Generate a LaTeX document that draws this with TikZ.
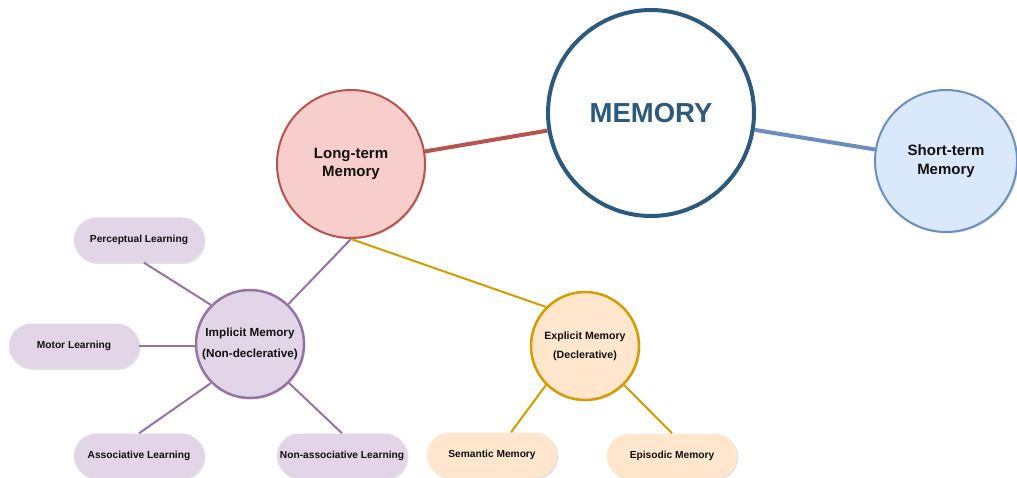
\documentclass[tikz,border=0pt]{standalone}
\usepackage{fontspec}
\setmainfont{Liberation Sans}
\usetikzlibrary{shadows}
\definecolor{memblue}{HTML}{2B5A7E}
\definecolor{stfill}{HTML}{DAE8FC}
\definecolor{ststroke}{HTML}{6C8EBF}
\definecolor{ltfill}{HTML}{F8CECC}
\definecolor{ltstroke}{HTML}{B85450}
\definecolor{imfill}{HTML}{E1D5E7}
\definecolor{imstroke}{HTML}{9673A6}
\definecolor{exfill}{HTML}{FFE6CC}
\definecolor{exstroke}{HTML}{D79B00}
\definecolor{txt}{HTML}{111111}
\tikzset{
  shad/.style={drop shadow={opacity=0.22, shadow xshift=1.5pt, shadow yshift=-1.5pt}},
  bigcircle/.style={circle, inner sep=0pt, align=center, text=txt, font=\bfseries\fontsize{15}{18.5}\selectfont, shad},
  midcircle/.style={circle, inner sep=0pt, align=center, text=txt, line width=2.5pt, shad},
  pill/.style={rectangle, rounded corners=22.5pt, minimum width=130pt, minimum height=45pt, inner sep=0pt, text=txt, font=\bfseries\fontsize{10.2}{12}\selectfont, shad},
  link/.style={line width=2pt}
}
\begin{document}
\begin{tikzpicture}[x=1pt,y=-1pt]
\useasboundingbox (0,0) rectangle (1017,478);
% main nodes
\node[bigcircle, draw=memblue, fill=white, line width=4pt, minimum size=206pt, text=memblue, font=\bfseries\fontsize{27.5}{30}\selectfont] (mem) at (651,113) {MEMORY};
\node[bigcircle, draw=ststroke, fill=stfill, line width=2pt, minimum size=142pt] (st) at (946,161) {Short-term\\Memory};
\node[bigcircle, draw=ltstroke, fill=ltfill, line width=2pt, minimum size=148pt] (lt) at (351,164) {Long-term\\Memory};
\node[midcircle, draw=imstroke, fill=imfill, minimum size=108pt, font=\bfseries\fontsize{11.7}{20.5}\selectfont] (im) at (250,344) {Implicit Memory\\(Non-declerative)};
\node[midcircle, draw=exstroke, fill=exfill, minimum size=108pt, font=\bfseries\fontsize{10.6}{19}\selectfont] (ex) at (585,346) {Explicit Memory\\(Declerative)};
% leaves
\node[pill, fill=imfill] (perc) at (139,240) {Perceptual Learning};
\node[pill, fill=imfill] (motor) at (74,346) {Motor Learning};
\node[pill, fill=imfill] (assoc) at (139,456) {Associative Learning};
\node[pill, fill=imfill] (nonassoc) at (342,456) {Non-associative Learning};
\node[pill, fill=exfill] (sem) at (492,455) {Semantic Memory};
\node[pill, fill=exfill] (epi) at (672,456) {Episodic Memory};
% connectors
\draw[line width=4pt, draw=ltstroke] (lt) -- (mem);
\draw[line width=4pt, draw=ststroke] (mem) -- (st);
\draw[link, draw=imstroke] (lt.south) -- (im);
\draw[link, draw=exstroke] (lt.south) -- (ex.135);
\draw[link, draw=imstroke] (im.135) -- ([xshift=5pt]perc.south);
\draw[link, draw=imstroke] (motor.east) -- (im.west|-motor.east);
\draw[link, draw=imstroke] (im.225) -- (assoc.north);
\draw[link, draw=imstroke] (im.315) -- (nonassoc.north);
\draw[link, draw=exstroke] (ex.225) -- ([xshift=19pt]sem.north);
\draw[link, draw=exstroke] (ex.315) -- (epi.north);
\end{tikzpicture}
\end{document}
